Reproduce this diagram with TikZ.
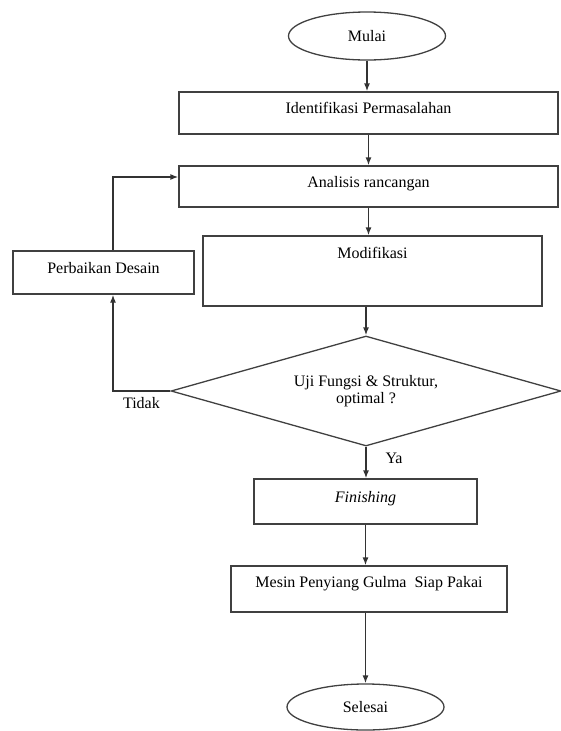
\documentclass[tikz,border=0pt]{standalone}
\usepackage{fontspec}
\setmainfont{Liberation Serif}
\usepackage{tikz}
\usetikzlibrary{arrows.meta,shapes.geometric,positioning}

\begin{document}
\begin{tikzpicture}[x=1pt, y=-1pt, >={Latex[length=8pt,width=6pt]},
	every node/.style = {font=\fontsize{16}{16.5}\selectfont, align=center},
	proses/.style = {rectangle, draw=black!75, line width=1.3pt, inner sep=4pt, text height=7pt, text depth=6pt},
	terminal/.style = {ellipse, draw=black!75, line width=1.3pt, inner sep=0pt, minimum width=157pt},
	keputusan/.style = {diamond, draw=black!75, line width=1.3pt, inner sep=0pt, aspect=3.5},
	alur/.style = {->, draw=black!80, line width=1.3pt}]
	\useasboundingbox (0,0) rectangle (560,731);
	\node[terminal, minimum height=48pt] (mulai) at (367,36) {Mulai};
	\node[proses, minimum width=379pt, minimum height=42pt] (ident) at (368.5,113) {Identifikasi Permasalahan};
	\node[proses, minimum width=379pt, minimum height=41pt] (anal) at (368.5,186.5) {Analisis rancangan};
	\node[proses, minimum width=339pt, minimum height=70pt, text height=7pt, text depth=32pt] (modif) at (372.5,271) {Modifikasi};
	\node[proses, minimum width=181pt, minimum height=43pt] (perb) at (103.5,272.5) {Perbaikan Desain};
	\node[keputusan, minimum width=390pt, minimum height=110pt] (uji) at (366,391) {Uji Fungsi \& Struktur,\\optimal ?};
	\node[proses, minimum width=223pt, minimum height=45pt] (fin) at (365.5,501.5) {\textit{Finishing}};
	\node[proses, minimum width=276pt, minimum height=46pt, text height=6pt, text depth=9pt] (mesin) at (369,589) {Mesin Penyiang Gulma~ Siap Pakai};
	\node[terminal, minimum height=46pt] (selesai) at (365.5,707) {Selesai};
	\node[below left=3pt and 7pt of uji.west] (tidak) {Tidak};
	\node[below right=3pt and 16pt of uji.south, anchor=north west] (ya) {Ya};

	\draw[alur] (mulai.south) -- (mulai.south |- ident.north);
	\draw[alur] (ident.south) -- (ident.south |- anal.north);
	\draw[alur] (anal.south) -- (anal.south |- modif.north);
	\draw[alur] (uji.north |- modif.south) -- (uji.north);
	\draw[alur] (uji.south) -- (uji.south |- fin.north);
	\draw[alur] (fin.south) -- (fin.south |- mesin.north);
	\draw[alur] (selesai.north |- mesin.south) -- (selesai.north);
	\draw[alur] (uji.west) -| ([xshift=9.5pt]perb.south);
	\draw[alur] ([xshift=9.5pt]perb.north) |- ([yshift=9.5pt]anal.west);
\end{tikzpicture}
\end{document}
